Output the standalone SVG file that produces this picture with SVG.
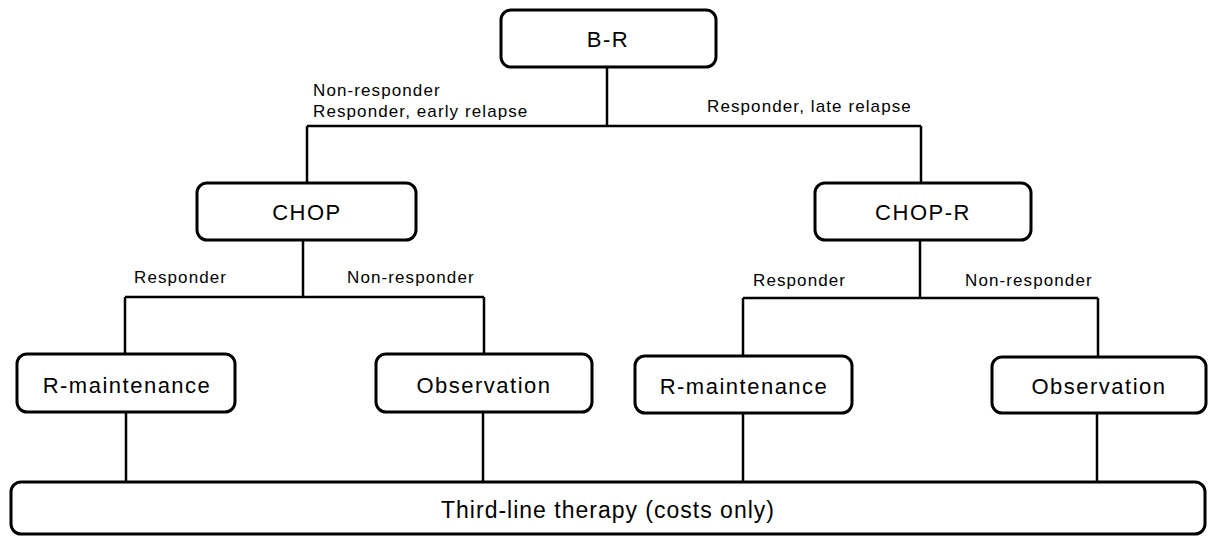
<svg xmlns="http://www.w3.org/2000/svg" width="1208" height="536" viewBox="0 0 1208 536">
<style>
.box{fill:#fff;stroke:#000;stroke-width:3}
.lbl{font-family:"Liberation Sans",Arial,sans-serif;font-size:22px;letter-spacing:1.5px;fill:#000;text-anchor:middle}
.big{font-family:"Liberation Sans",Arial,sans-serif;font-size:23px;letter-spacing:1px;fill:#000;text-anchor:middle}
.edge{font-family:"Liberation Sans",Arial,sans-serif;font-size:17px;letter-spacing:1.1px;fill:#000}
.ln{fill:none;stroke:#000;stroke-width:2.5}
</style>
<rect width="1208" height="536" fill="#fff"/>
<g id="connectors">
<path class="ln" d="M607 67V126M307 126H921M307 126V183M921 126V183"/>
<path class="ln" d="M303 240V297M125 297H484M125 297V354M484 297V354"/>
<path class="ln" d="M920 240V298M743 298H1098M743 298V356M1098 298V357"/>
<path class="ln" d="M126 412V482M483 412V482M743 413V482M1097 413V482"/>
<text class="edge" x="313" y="96">Non-responder</text>
<text class="edge" x="313" y="117">Responder, early relapse</text>
<text class="edge" x="707" y="112">Responder, late relapse</text>
<text class="edge" x="134" y="283">Responder</text>
<text class="edge" x="347" y="283">Non-responder</text>
<text class="edge" x="753" y="286">Responder</text>
<text class="edge" x="965" y="286">Non-responder</text>
</g>
<g id="node-br"><rect class="box" x="501" y="10" width="215" height="57" rx="10"/><text class="lbl" x="608" y="47">B-R</text></g>
<g id="node-chop"><rect class="box" x="197" y="183" width="219" height="57" rx="10"/><text class="lbl" x="307" y="220">CHOP</text></g>
<g id="node-chopr"><rect class="box" x="815" y="183" width="216" height="57" rx="10"/><text class="lbl" x="923" y="220">CHOP-R</text></g>
<g id="node-rm1"><rect class="box" x="17" y="354" width="218" height="58" rx="10"/><text class="lbl" x="127" y="393">R-maintenance</text></g>
<g id="node-obs1"><rect class="box" x="376" y="354" width="216" height="58" rx="10"/><text class="lbl" x="484" y="393">Observation</text></g>
<g id="node-rm2"><rect class="box" x="635" y="356" width="217" height="57" rx="10"/><text class="lbl" x="744" y="394">R-maintenance</text></g>
<g id="node-obs2"><rect class="box" x="992" y="357" width="214" height="56" rx="10"/><text class="lbl" x="1099" y="394">Observation</text></g>
<g id="node-third"><rect class="box" x="11" y="482" width="1194" height="52" rx="10"/><text class="big" x="608" y="518">Third-line therapy (costs only)</text></g>
</svg>
